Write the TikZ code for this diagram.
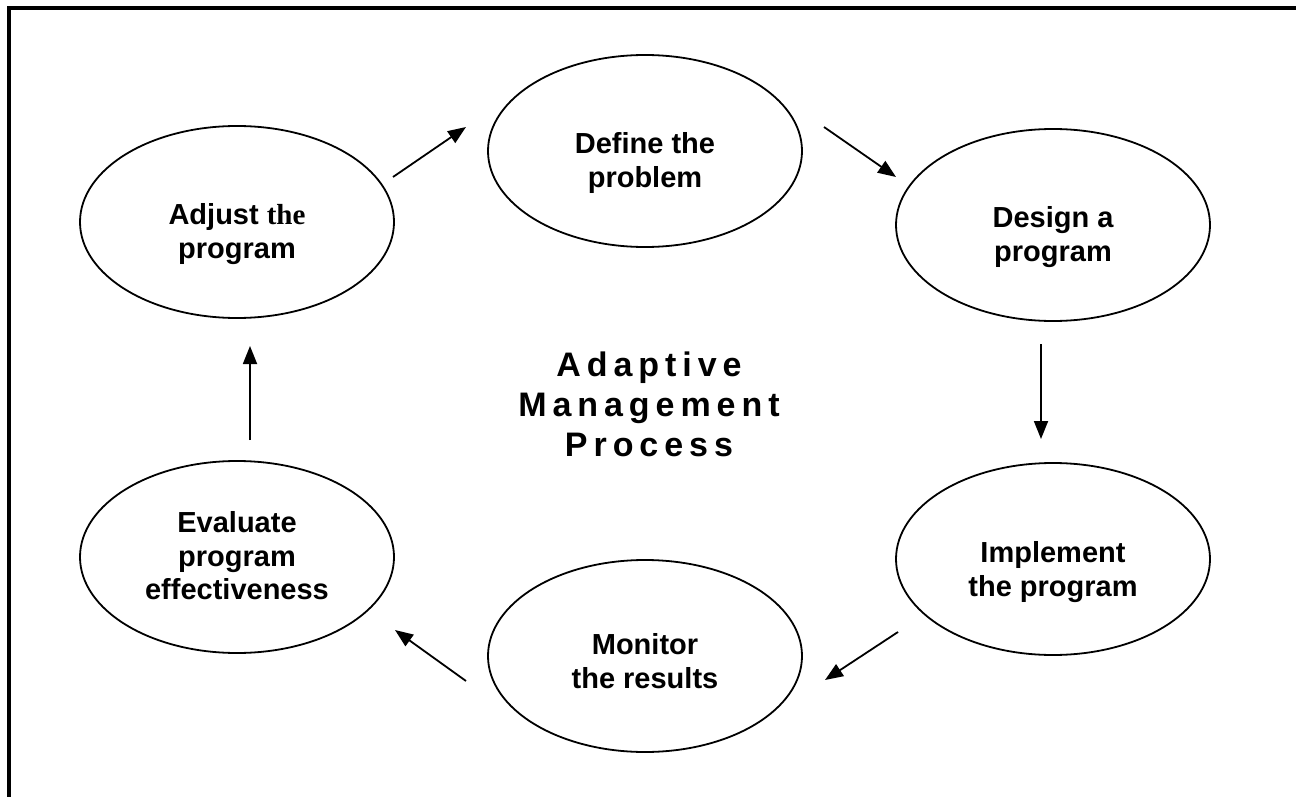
\documentclass[tikz,border=0pt]{standalone}
\usepackage{fontspec}
\setmainfont{Liberation Sans}
\newfontfamily\timesfont{Liberation Serif}
\newfontfamily\titlefont[LetterSpace=17.5]{Liberation Sans}
\usetikzlibrary{shapes.geometric,arrows.meta}
\begin{document}
\begin{tikzpicture}[x=1pt,y=-1pt,
  stage/.style={ellipse,draw,line width=1.8pt,minimum width=314pt,minimum height=192pt,inner sep=0pt},
  stagetext/.style={inner sep=0pt,align=center,font=\fontsize{29}{33.5}\selectfont\bfseries},
  flow/.style={line width=1.8pt,-{Triangle[length=18pt,width=14pt]}},
  framestroke/.style={line width=4pt,line join=miter}]
\useasboundingbox (0,0) rectangle (1296,797);
% frame
\coordinate (ftr) at (1296,8);
\coordinate (ftl) at (9,8);
\coordinate (fbl) at (9,797);
\draw[framestroke] (ftr) -- (ftl) -- (fbl);
% stages
\node[stage] (define) at (645,151) {};
\node[stage] (design) at (1053,225) {};
\node[stage] (implement) at (1053,559) {};
\node[stage] (monitor) at (645,656) {};
\node[stage] (evaluate) at (237,557) {};
\node[stage] (adjust) at (237,222) {};
\node[stagetext] (definetext) at ([yshift=-12pt]define.center) {Define the\\problem};
\node[stagetext] (designtext) at ([yshift=-12pt]design.center) {Design a\\program};
\node[stagetext] (implementtext) at ([yshift=-13pt]implement.center) {Implement\\the program};
\node[stagetext] (monitortext) at ([yshift=-5pt]monitor.center) {Monitor\\the results};
\node[stagetext] (evaluatetext) at ([yshift=1pt]evaluate.center) {Evaluate\\program\\effectiveness};
\node[stagetext] (adjusttext) at ([yshift=-12pt]adjust.center) {Adjust {\timesfont the}\\program};
% title
\node[align=center,font=\fontsize{34}{40}\selectfont\bfseries\titlefont] (title) at (649,404)
  {Adaptive\\Management\\Process};
% arrow end points
\coordinate (a1s) at (393,177); \coordinate (a1e) at (466,127);
\coordinate (a2s) at (824,127); \coordinate (a2e) at (896,177);
\coordinate (a3s) at (1041,344); \coordinate (a3e) at (1041,439);
\coordinate (a4s) at (898,632); \coordinate (a4e) at (825,680);
\coordinate (a5s) at (466,681); \coordinate (a5e) at (395,630);
\coordinate (a6s) at (250,440); \coordinate (a6e) at (250,346);
\draw[flow] (a1s) -- (a1e);
\draw[flow] (a2s) -- (a2e);
\draw[flow] (a3s) -- (a3e);
\draw[flow] (a4s) -- (a4e);
\draw[flow] (a5s) -- (a5e);
\draw[flow] (a6s) -- (a6e);
\end{tikzpicture}
\end{document}
